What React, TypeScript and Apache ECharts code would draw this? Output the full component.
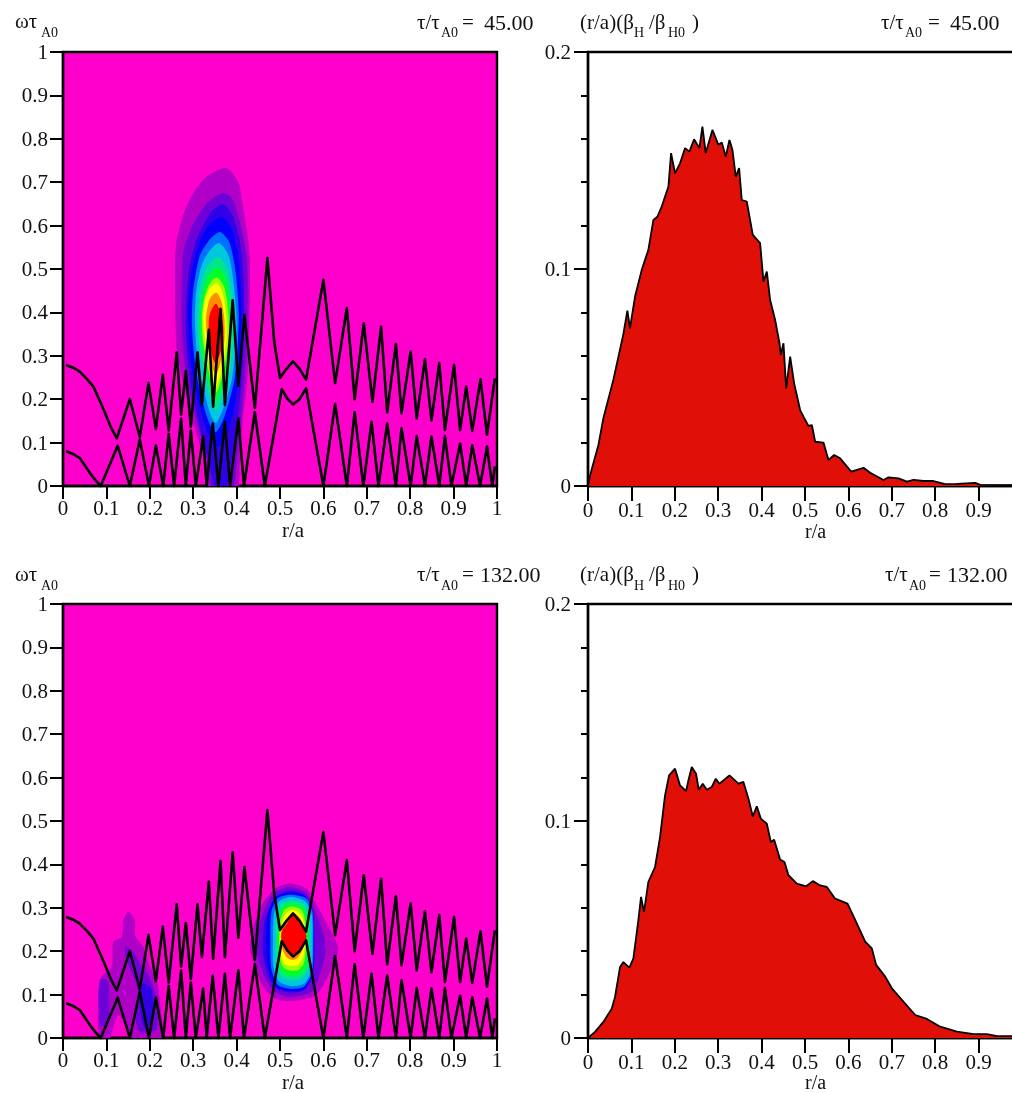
import React, { useEffect, useRef } from "react";
import * as echarts from "echarts";

type P = [number, number];

const font = '"Liberation Serif"';
const fullTicks = ["0", "0.1", "0.2", "0.3", "0.4", "0.5", "0.6", "0.7", "0.8", "0.9", "1"];

const upperBranch: P[] = [[.007,.279],[.025,.272],[.039,.263],[.055,.247],[.07,.229],[.085,.196],[.097,.168],[.11,.136],[.124,.11],[.154,.2],[.177,.113],[.197,.237],[.214,.131],[.23,.256],[.2435,.128],[.262,.308],[.2722,.165],[.283,.265],[.2945,.136],[.31,.308],[.32,.187],[.336,.36],[.346,.183],[.363,.408],[.373,.187],[.391,.428],[.404,.231],[.418,.394],[.442,.18],[.471,.525],[.487,.33],[.5,.249],[.515,.27],[.53,.287],[.545,.27],[.56,.245],[.6,.475],[.627,.237],[.654,.41],[.672,.2],[.693,.375],[.713,.194],[.733,.367],[.747,.17],[.767,.327],[.78,.168],[.801,.31],[.815,.156],[.834,.292],[.849,.151],[.867,.283],[.88,.129],[.901,.279],[.915,.129],[.929,.229],[.943,.127],[.962,.246],[.977,.118],[.995,.248]];
const lowerBranch: P[] = [[.007,.08],[.025,.073],[.039,.064],[.05,.048],[.062,.03],[.075,.013],[.087,0],[.126,.093],[.154,0],[.177,.107],[.198,0],[.214,.093],[.231,0],[.2435,.12],[.256,0],[.2722,.155],[.283,0],[.2945,.128],[.306,0],[.323,.114],[.331,0],[.345,.144],[.358,0],[.373,.148],[.385,0],[.404,.156],[.417,0],[.442,.17],[.465,0],[.504,.223],[.518,.2],[.53,.188],[.545,.2],[.56,.225],[.6,0],[.627,.189],[.654,0],[.672,.17],[.692,0],[.711,.148],[.727,0],[.747,.144],[.767,0],[.78,.133],[.801,0],[.815,.115],[.834,0],[.849,.114],[.867,0],[.88,.115],[.895,0],[.915,.098],[.929,0],[.943,.094],[.961,0],[.977,.091],[.989,0],[.995,.045]];

const energyEarly: P[] = [[0,0],[.005,.0051],[.024,.0189],[.0354,.0312],[.0584,.0489],[.0815,.07],[.0907,.0808],[.0968,.0727],[.1084,.0873],[.1238,.0996],[.1391,.1088],[.1507,.1226],[.1599,.1241],[.1699,.1288],[.1853,.138],[.1914,.1534],[.2006,.1441],[.2121,.1487],[.2237,.1557],[.2337,.1541],[.2444,.1598],[.2567,.1557],[.2636,.1656],[.2713,.1534],[.2867,.1641],[.3005,.1572],[.3082,.1583],[.3174,.1518],[.3259,.1595],[.3328,.1549],[.3405,.1426],[.3482,.1465],[.3543,.1318],[.3658,.1311],[.3797,.1157],[.3966,.1119],[.4043,.0942],[.412,.0988],[.4197,.0857],[.4312,.0765],[.4412,.0658],[.4443,.0604],[.4504,.0658],[.4566,.045],[.4658,.0596],[.475,.0473],[.4888,.035],[.4965,.032],[.508,.0277],[.5158,.0281],[.5234,.0204],[.5426,.02],[.5541,.012],[.5672,.0143],[.581,.0128],[.6064,.0066],[.6348,.0084],[.6502,.0061],[.6694,.004],[.6809,.0028],[.6924,.004],[.7155,.0035],[.7348,.002],[.7501,.0028],[.7731,.0023],[.7962,.0023],[.8231,.0009],[.8501,.001],[.8923,.0014],[.9039,.0005],[.98,.0004]];
const energyLate: P[] = [[0,0],[.0161,.0028],[.0354,.0074],[.0546,.0135],[.0623,.0189],[.0738,.0327],[.0815,.035],[.0953,.0324],[.1045,.0366],[.116,.0542],[.1222,.065],[.1291,.0581],[.1391,.0719],[.1545,.0788],[.166,.0926],[.1775,.1118],[.1868,.121],[.2006,.1241],[.2121,.1164],[.226,.1138],[.2313,.1187],[.239,.1249],[.249,.1218],[.2552,.1144],[.2644,.1172],[.2736,.1144],[.2852,.1157],[.2944,.1195],[.3028,.1172],[.3259,.121],[.3466,.1172],[.3581,.118],[.3697,.1103],[.3797,.1021],[.3889,.1068],[.3982,.1011],[.412,.0988],[.4212,.0903],[.4289,.0914],[.4427,.0822],[.4527,.0811],[.4619,.075],[.4811,.0711],[.5027,.0699],[.5181,.0723],[.5349,.0703],[.5503,.0696],[.5695,.0642],[.598,.0619],[.6156,.0544],[.6387,.0444],[.654,.0413],[.664,.0337],[.6848,.0283],[.7002,.0229],[.7271,.0167],[.754,.0106],[.7809,.0088],[.8116,.0052],[.8501,.0029],[.8885,.0018],[.9193,.0018],[.9423,.0009],[.98,.0009]];

const shades = ["#b000c8", "#7000d8", "#3000e8", "#0000ff", "#0070ff", "#00c8dc", "#00e68c", "#00ff28", "#a0ff00", "#ffff00", "#ff8c00", "#ff0000"];

const earlyContours: [number, P[]][] = [
  [0, [[.377,.733],[.404,.70],[.415,.643],[.427,.567],[.431,.505],[.429,.352],[.424,.237],[.415,.16],[.407,.05],[.40,-.01],[.335,-.01],[.323,.067],[.296,.16],[.277,.237],[.262,.313],[.258,.505],[.262,.567],[.281,.636],[.30,.675],[.331,.713]]],
  [1, [[.37,.675],[.392,.659],[.41,.597],[.424,.52],[.424,.35],[.415,.2],[.40,.06],[.39,-.01],[.345,-.01],[.33,.07],[.305,.16],[.285,.25],[.274,.35],[.277,.536],[.297,.597],[.331,.651]]],
  [2, [[.37,.65],[.392,.62],[.41,.55],[.417,.45],[.415,.3],[.402,.15],[.385,.04],[.375,-.01],[.352,-.01],[.335,.06],[.312,.15],[.292,.25],[.283,.37],[.288,.48],[.305,.56],[.34,.63]]],
  [3, [[.365,.62],[.39,.59],[.405,.52],[.411,.42],[.408,.28],[.392,.17],[.37,.1],[.352,.09],[.335,.12],[.31,.2],[.295,.28],[.289,.38],[.293,.47],[.31,.55],[.335,.6]]],
  [4, [[.362,.585],[.384,.56],[.398,.49],[.405,.39],[.396,.25],[.372,.16],[.352,.124],[.335,.15],[.315,.22],[.302,.3],[.297,.38],[.30,.45],[.315,.53],[.34,.57]]],
  [5, [[.36,.56],[.382,.53],[.394,.46],[.4,.37],[.39,.25],[.368,.175],[.352,.145],[.338,.17],[.32,.24],[.308,.31],[.304,.38],[.307,.45],[.32,.51],[.34,.545]]],
  [6, [[.358,.528],[.378,.5],[.39,.44],[.394,.36],[.384,.26],[.366,.2],[.352,.175],[.34,.2],[.324,.26],[.314,.32],[.31,.38],[.314,.44],[.325,.49],[.34,.515]]],
  [7, [[.357,.505],[.375,.48],[.385,.42],[.388,.35],[.378,.27],[.362,.215],[.352,.198],[.342,.215],[.328,.27],[.318,.33],[.316,.38],[.32,.43],[.33,.475],[.343,.495]]],
  [8, [[.356,.48],[.371,.46],[.38,.41],[.382,.34],[.373,.28],[.36,.23],[.352,.215],[.344,.23],[.332,.28],[.322,.34],[.32,.39],[.325,.43],[.335,.46],[.345,.475]]],
  [9, [[.354,.467],[.368,.445],[.375,.4],[.377,.34],[.369,.285],[.358,.24],[.352,.228],[.345,.245],[.335,.29],[.326,.345],[.323,.39],[.328,.43],[.338,.455]]],
  [10, [[.354,.445],[.365,.425],[.372,.385],[.372,.335],[.364,.29],[.354,.258],[.347,.265],[.338,.31],[.331,.35],[.33,.39],[.336,.425],[.345,.44]]],
  [11, [[.353,.42],[.363,.4],[.369,.37],[.369,.33],[.36,.3],[.352,.283],[.345,.295],[.34,.32],[.336,.36],[.337,.39],[.344,.41]]],
];

const lateContours: [number, P[]][] = [
  [0, [[.1505,.291],[.166,.272],[.166,.237],[.185,.21],[.197,.172],[.216,.134],[.223,.088],[.227,-.01],[.166,-.01],[.1275,.053],[.1045,-.01],[.084,-.01],[.081,.103],[.089,.141],[.112,.164],[.116,.222],[.135,.233],[.139,.272]]],
  [1, [[.085,.135],[.104,.13],[.104,.03],[.085,.03]]],
  [1, [[.1429,.2104],[.1582,.2028],[.1774,.172],[.2005,.1375],[.2158,.0876],[.2143,.0184],[.1774,.0146],[.166,.0491],[.1736,.0952],[.166,.1336],[.1467,.1797]]],
  [2, [[.1774,.126],[.2005,.118],[.2082,.0876],[.2044,.0338],[.1889,.0223],[.1774,.0645]]],
  [0, [[.523,.356],[.56,.345],[.58,.315],[.61,.26],[.634,.205],[.61,.14],[.585,.1],[.56,.09],[.523,.085],[.49,.09],[.46,.12],[.44,.17],[.431,.21],[.44,.26],[.46,.31],[.49,.345]]],
  [1, [[.523,.348],[.56,.335],[.578,.3],[.6,.24],[.605,.2],[.59,.14],[.57,.105],[.523,.095],[.49,.105],[.47,.13],[.45,.18],[.445,.22],[.455,.27],[.475,.32],[.495,.34]]],
  [2, [[.523,.34],[.555,.33],[.575,.29],[.58,.22],[.575,.14],[.555,.11],[.523,.105],[.49,.115],[.47,.15],[.46,.21],[.465,.27],[.49,.325]]],
  [3, [[.523,.335],[.555,.33],[.575,.295],[.578,.22],[.575,.15],[.555,.112],[.523,.108],[.49,.118],[.473,.16],[.468,.22],[.472,.285],[.49,.325]]],
  [4, [[.525,.33],[.56,.322],[.575,.29],[.577,.22],[.574,.15],[.555,.118],[.525,.113],[.495,.122],[.48,.16],[.478,.22],[.48,.29],[.495,.322]]],
  [5, [[.525,.325],[.558,.315],[.573,.285],[.575,.22],[.572,.155],[.555,.125],[.525,.12],[.498,.13],[.485,.165],[.484,.22],[.486,.285],[.498,.315]]],
  [6, [[.527,.317],[.555,.308],[.568,.28],[.57,.22],[.566,.16],[.55,.137],[.527,.133],[.503,.14],[.492,.17],[.49,.22],[.492,.28],[.503,.308]]],
  [7, [[.527,.31],[.552,.302],[.563,.275],[.565,.22],[.561,.165],[.548,.147],[.527,.143],[.506,.15],[.497,.175],[.494,.22],[.497,.275],[.506,.302]]],
  [8, [[.527,.303],[.55,.295],[.558,.27],[.56,.22],[.556,.175],[.545,.158],[.527,.155],[.51,.16],[.501,.18],[.498,.22],[.501,.27],[.51,.295]]],
  [9, [[.528,.295],[.548,.285],[.556,.26],[.558,.22],[.553,.185],[.542,.17],[.528,.166],[.512,.17],[.503,.19],[.5,.225],[.504,.26],[.512,.285]]],
  [10, [[.53,.288],[.547,.275],[.56,.24],[.553,.205],[.541,.185],[.53,.18],[.516,.185],[.504,.21],[.502,.24],[.515,.27]]],
  [11, [[.53,.282],[.545,.265],[.561,.235],[.55,.21],[.54,.198],[.53,.193],[.518,.2],[.504,.225],[.504,.245],[.517,.265]]],
];

const smallLabels: [string, number, number, number][] = [
  ["ωτ", 15, 21, 21], ["A0", 41, 32, 14], ["τ/τ", 417, 22, 21], ["A0", 441, 32, 14], ["=", 462, 22, 21], ["45.00", 484, 22, 22],
  ["(r/a)(β", 580, 22, 21], ["H", 634, 32, 14], ["/β", 649, 22, 21], ["H0", 668, 32, 14], [")", 692, 22, 21],
  ["τ/τ", 881, 22, 21], ["A0", 905, 32, 14], ["=", 928, 22, 21], ["45.00", 950, 22, 22],
  ["r/a", 282, 530, 21], ["r/a", 805, 531, 20],
  ["ωτ", 15, 574, 21], ["A0", 41, 585, 14], ["τ/τ", 417, 574, 21], ["A0", 441, 585, 14], ["=", 462, 574, 21], ["132.00", 480, 574, 22],
  ["(r/a)(β", 580, 574, 21], ["H", 634, 585, 14], ["/β", 649, 574, 21], ["H0", 668, 585, 14], [")", 692, 574, 21],
  ["τ/τ", 885, 574, 21], ["A0", 909, 585, 14], ["=", 929, 574, 21], ["132.00", 947, 574, 22],
  ["r/a", 282, 1082, 21], ["r/a", 805, 1082, 20],
];

const gridBoxes = [
  { left: 63, top: 52, backgroundColor: "#ff00cc" },
  { left: 588, top: 52, backgroundColor: "#fff" },
  { left: 63, top: 604, backgroundColor: "#ff00cc" },
  { left: 588, top: 604, backgroundColor: "#fff" },
];

const labelStyle = { color: "#111", fontFamily: font, fontSize: 21 };
const axisLine = { show: true, onZero: false, lineStyle: { color: "#000", width: 2.4 } };

function xAxis(gridIndex: number) {
  const isRight = gridIndex % 2 === 1;
  return {
    type: "value", gridIndex, min: 0, max: 1, interval: 0.1,
    axisLine, splitLine: { show: false },
    axisTick: { length: isRight ? 15 : 13, lineStyle: { color: "#000", width: 2 } },
    axisLabel: {
      ...labelStyle, margin: isRight ? 13 : 11,
      formatter: (v: number) => { const s = fullTicks[Math.round(v * 10)]; return isRight && s === "1" ? "" : s; },
    },
  };
}

function yAxis(gridIndex: number) {
  const isRight = gridIndex % 2 === 1;
  return isRight
    ? {
        type: "value", gridIndex, min: 0, max: 0.2, interval: 0.1,
        axisLine, splitLine: { show: false }, minorSplitLine: { show: false },
        axisTick: { length: 14, lineStyle: { color: "#000", width: 2 } },
        minorTick: { show: true, splitNumber: 5, length: 7, lineStyle: { color: "#000", width: 2 } },
        axisLabel: { ...labelStyle, margin: 17 },
      }
    : {
        type: "value", gridIndex, min: 0, max: 1, interval: 0.1,
        axisLine, splitLine: { show: false },
        axisTick: { length: 13, lineStyle: { color: "#000", width: 2 } },
        axisLabel: { ...labelStyle, margin: 15, formatter: (v: number) => fullTicks[Math.round(v * 10)] },
      };
}

function contourSeries(idx: number, contours: [number, P[]][]) {
  return {
    type: "custom", xAxisIndex: idx, yAxisIndex: idx, clip: true, z: 2, silent: true,
    data: contours.map((c) => c[1][0]),
    encode: { x: 0, y: 1 },
    renderItem: (p: any, api: any) => {
      const [shade, pts] = contours[p.dataIndex];
      return {
        type: "polygon",
        shape: { points: pts.map((q) => api.coord(q)), smooth: 0.25 },
        style: { fill: shades[shade], stroke: "none" },
      };
    },
  };
}

function branchSeries(idx: number, data: P[]) {
  return {
    type: "line", xAxisIndex: idx, yAxisIndex: idx, data, showSymbol: false, symbol: "none", z: 4, clip: false,
    lineStyle: { color: "#000", width: 2.6, join: "round" },
  };
}

function energySeries(idx: number, data: P[]) {
  return {
    type: "line", xAxisIndex: idx, yAxisIndex: idx, data, showSymbol: false, symbol: "none", z: 3,
    lineStyle: { color: "#000", width: 1.8 },
    areaStyle: { color: "#e01008", opacity: 1 },
  };
}

export default function App() {
  const ref = useRef<HTMLDivElement>(null);
  useEffect(() => {
    document.body.style.margin = "0";
    const chart = echarts.init(ref.current!, undefined, { renderer: "svg" });
    chart.setOption({
      animation: false,
      backgroundColor: "#fff",
      grid: gridBoxes.map((g) => ({
        ...g, width: 434, height: 434, show: true, borderColor: "#000", borderWidth: 2.4, outerBoundsMode: "none",
      })),
      xAxis: [0, 1, 2, 3].map(xAxis),
      yAxis: [0, 1, 2, 3].map(yAxis),
      series: [
        contourSeries(0, earlyContours), branchSeries(0, upperBranch), branchSeries(0, lowerBranch),
        energySeries(1, energyEarly),
        contourSeries(2, lateContours), branchSeries(2, upperBranch), branchSeries(2, lowerBranch),
        energySeries(3, energyLate),
      ],
      graphic: smallLabels.map(([text, x, y, size]) => ({
        type: "text", x, y, silent: true,
        style: { text, fill: "#111", font: `${size}px ${font}`, textAlign: "left", textVerticalAlign: "middle", verticalAlign: "middle" },
      })),
    });
    return () => chart.dispose();
  }, []);
  return <div ref={ref} style={{ width: 1012, height: 1093, filter: "blur(0.6px)" }} />;
}
